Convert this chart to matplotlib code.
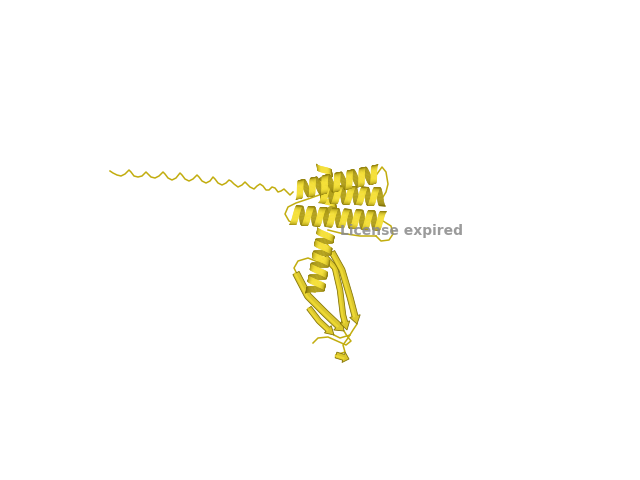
import numpy as np
import matplotlib
matplotlib.use("Agg")
import matplotlib.pyplot as plt
from matplotlib.collections import PolyCollection

# ---- data (pixel coords, y down) ----
tail_x = [110, 113, 117, 121, 125, 129, 131, 134, 138, 142, 146, 148, 151, 155, 159, 163,
          165, 168, 172, 176, 180, 182, 185, 189, 193, 197, 199, 202, 206, 210, 213, 215,
          218, 222, 226, 229, 231, 234, 238, 242, 245, 247, 250, 254, 257, 260, 263, 266,
          269, 272, 275, 278, 281, 284, 287, 290, 293]
tail_y = [171, 173, 175, 176, 174, 170, 172, 176, 177, 176, 172, 174, 177, 178, 176, 172,
          174, 178, 180, 178, 173, 175, 179, 181, 179, 175, 177, 181, 183, 181, 177, 179,
          183, 185, 183, 180, 181, 184, 187, 185, 182, 184, 187, 189, 186, 184, 186, 190,
          190, 187, 188, 192, 191, 189, 192, 195, 192]

# helices: start, end, turns, radius
helix_start = [(324, 166), (322, 194), (297, 190), (293, 215), (326, 232)]
helix_end = [(330, 214), (383, 197), (377, 174), (383, 221), (315, 292)]
helix_turns = [3.0, 5.0, 6.5, 7.5, 5.0]
helix_radius = [7.0, 9.0, 9.0, 9.5, 9.0]

# beta strands (polylines)
strands = [
    [(296, 273), (308, 296), (325, 313), (344, 331)],
    [(325, 257), (335, 268), (340, 290), (343, 315), (347, 330)],
    [(332, 252), (342, 270), (350, 297), (357, 324)],
    [(309, 308), (319, 321), (334, 335)],
    [(336, 355), (349, 359)],
]
strand_width = [7.0, 5.5, 6.0, 5.5, 6.0]

# loops (polylines)
loops = [
    [(377, 174), (382, 167), (386, 172), (388, 184), (386, 192), (383, 197)],
    [(322, 194), (308, 199), (296, 203), (288, 207), (285, 214), (289, 221), (296, 224)],
    [(383, 221), (391, 226), (393, 234), (389, 240), (381, 241), (376, 236)],
    [(376, 236), (360, 236), (340, 233), (328, 230)],
    [(315, 292), (308, 290), (300, 283), (296, 273)],
    [(325, 257), (318, 262), (308, 258), (298, 261), (294, 268), (297, 274)],
    [(344, 331), (347, 336), (351, 341), (346, 345), (337, 341), (328, 337), (318, 338), (313, 343)],
    [(357, 324), (353, 330), (348, 338), (343, 345), (345, 352), (336, 355)],
    [(334, 335), (340, 338), (350, 335)],
    [(332, 252), (330, 248), (327, 244)],
]

# ---- colours ----
base = np.array([0.96, 0.88, 0.22])
dark = np.array([0.45, 0.39, 0.0])
loop_col = (0.76, 0.68, 0.06)


def shade(b):
    b = np.clip(b, 0, 1)
    return dark + (base - dark) * b


def draw_helix(ax, p0, p1, turns, r, z):
    p0 = np.array(p0, float)
    p1 = np.array(p1, float)
    d = p1 - p0
    L = np.hypot(*d)
    u = d / L
    n = np.array([-u[1], u[0]])
    t = np.linspace(0, 1, int(turns * 40) + 1)
    phi = 2 * np.pi * turns * t
    pts = p0 + np.outer(t, d) + np.outer(r * np.cos(phi), n)
    depth = np.sin(phi)
    w = min(6.0, 0.55 * L / turns)
    back, front, cb, cf = [], [], [], []
    for i in range(len(t) - 1):
        a, b = pts[i], pts[i + 1]
        q = [a - w * u / 2, b - w * u / 2, b + w * u / 2, a + w * u / 2]
        dm = 0.5 * (depth[i] + depth[i + 1])
        if dm < 0:
            back.append(q)
            cb.append(shade(0.1 + 0.4 * abs(dm)))
        else:
            front.append(q)
            cf.append(shade(0.2 + 0.9 * dm))
    ax.add_collection(PolyCollection(back, facecolors=cb, edgecolors=cb,
                                     linewidths=0.4, zorder=z))
    ax.add_collection(PolyCollection(front, facecolors=cf, edgecolors=cf,
                                     linewidths=0.4, zorder=z + 0.5))


def densify(pts, step=1.0):
    pts = np.array(pts, float)
    seg = np.hypot(*np.diff(pts, axis=0).T)
    s = np.concatenate([[0], np.cumsum(seg)])
    ss = np.linspace(0, s[-1], max(int(s[-1] / step), 2))
    return np.column_stack([np.interp(ss, s, pts[:, 0]), np.interp(ss, s, pts[:, 1])])


def draw_strand(ax, pts, w, z):
    p = densify(pts)
    tan = np.gradient(p, axis=0)
    tan /= np.hypot(*tan.T)[:, None]
    nrm = np.column_stack([-tan[:, 1], tan[:, 0]])
    L = np.hypot(*np.diff(p, axis=0).T).sum()
    head = min(8.0, 0.4 * L)
    s = np.concatenate([[0], np.cumsum(np.hypot(*np.diff(p, axis=0).T))])
    k = np.where(s <= L - head)[0][-1]
    left = p[:k + 1] + nrm[:k + 1] * w / 2
    right = p[:k + 1] - nrm[:k + 1] * w / 2
    hb = p[k]
    tip = p[-1]
    poly = np.vstack([left, hb + nrm[k] * w * 0.9, tip, hb - nrm[k] * w * 0.9, right[::-1]])
    ax.fill(poly[:, 0], poly[:, 1], color=shade(0.8), zorder=z,
            ec=shade(0.15), lw=0.6)
    ax.plot(p[:k + 1, 0] + nrm[:k + 1, 0] * w * 0.15, p[:k + 1, 1] + nrm[:k + 1, 1] * w * 0.15,
            color=shade(1.0), lw=1.6, zorder=z + 0.1, alpha=0.7)


fig = plt.figure(figsize=(6.4, 4.8), dpi=100)
ax = fig.add_axes([0, 0, 1, 1])
ax.set_xlim(0, 640)
ax.set_ylim(480, 0)
ax.axis("off")

ax.plot(tail_x, tail_y, color=loop_col, lw=1.1, zorder=1, solid_joinstyle="round")
for lp in loops:
    lp = np.array(lp)
    ax.plot(lp[:, 0], lp[:, 1], color=loop_col, lw=1.1, zorder=1)

for i, (a, b, tn, r) in enumerate(zip(helix_start, helix_end, helix_turns, helix_radius)):
    draw_helix(ax, a, b, tn, r, 2 + i)

for i, (st, w) in enumerate(zip(strands, strand_width)):
    draw_strand(ax, st, w, 3 + i)

ax.text(402, 231, "License expired", fontsize=10, fontweight="bold", color="#8a8a8a",
        alpha=0.85, ha="center", va="center", zorder=20)

fig.savefig("out.png", dpi=100, facecolor="white")
